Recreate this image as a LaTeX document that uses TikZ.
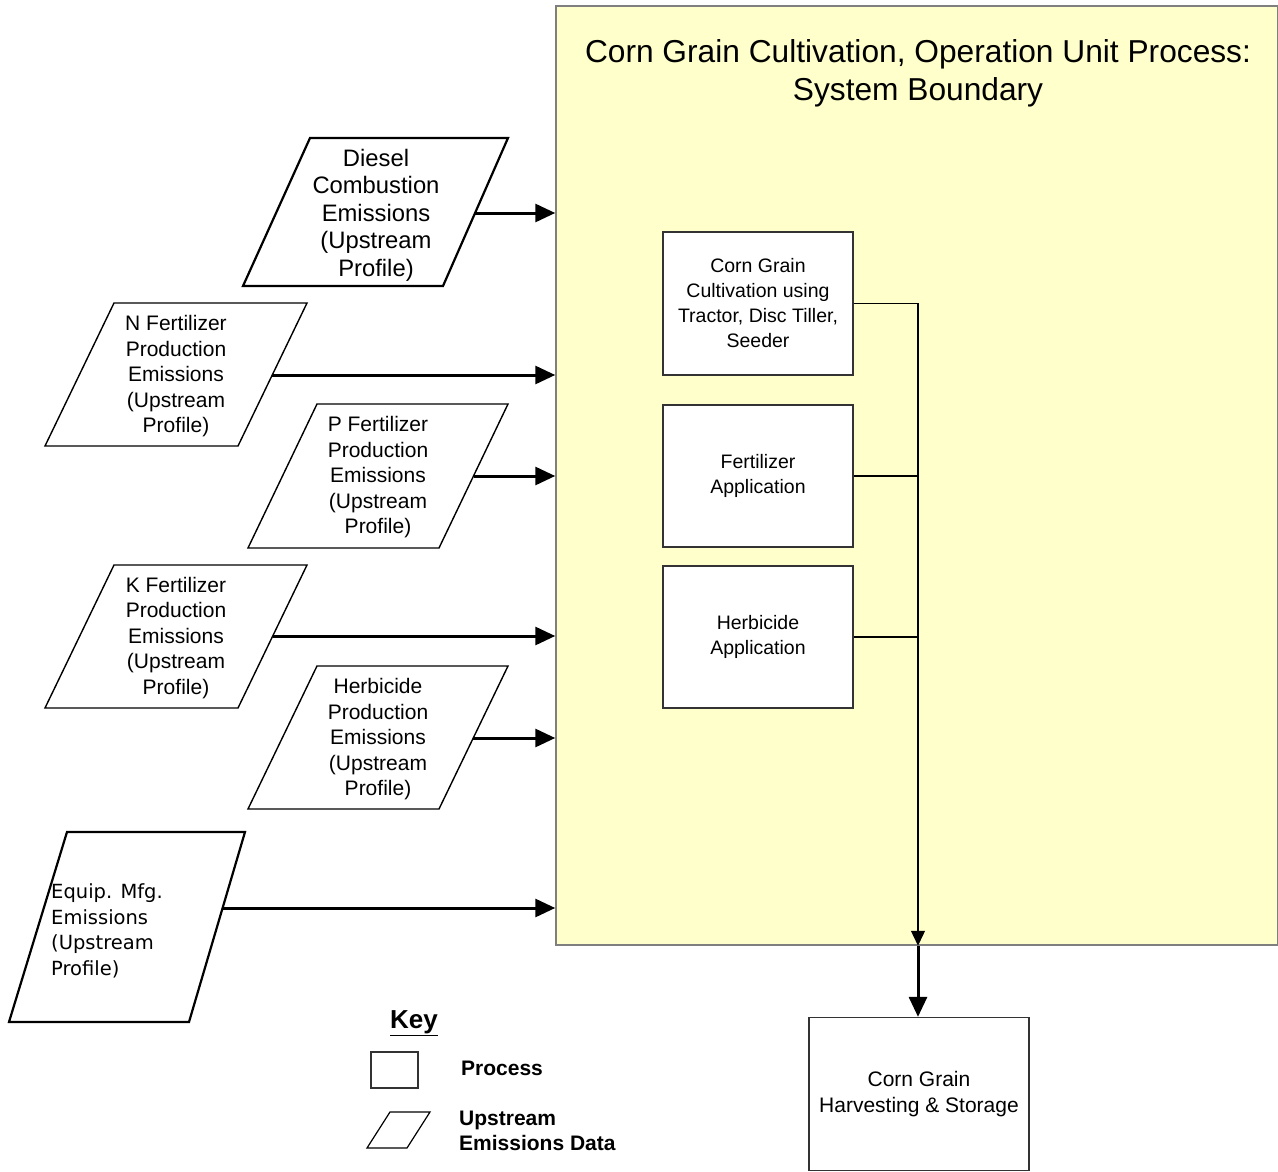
\documentclass[tikz,border=0pt]{standalone}
\usepackage{fontspec}
\setmainfont{Liberation Sans}
\newfontfamily\dejavu{DejaVu Sans}
\usetikzlibrary{arrows.meta,calc}
\definecolor{sysfill}{HTML}{FFFFCC}
\definecolor{sysline}{HTML}{7F7F7F}
\begin{document}
\begin{tikzpicture}[x=1pt,y=-1pt,
  proc/.style={draw=black!80, line width=1.3pt, fill=white, inner sep=0pt, align=center, font=\fontsize{19.5}{25}\selectfont},
  feed/.style={line width=3pt, -{Triangle[length=20pt,width=18pt]}},
  link/.style={line width=1.3pt},
  linkarrow/.style={line width=1.3pt, -{Triangle[length=15pt,width=14pt]}},
  upbox/.style={draw=black, line width=1.4pt, fill=white, line join=miter},
  upboxthick/.style={draw=black, line width=2.2pt, fill=white, line join=miter},
  uptext/.style={align=center, inner sep=0pt, font=\fontsize{21}{25.5}\selectfont},
  uptextbig/.style={align=center, inner sep=0pt, font=\fontsize{23.8}{27.5}\selectfont},
  keytext/.style={align=left, inner sep=0pt, font=\bfseries\fontsize{21}{25}\selectfont}
]
\useasboundingbox (0,0) rectangle (1278,1172);
\fill[white] (0,0) rectangle (1278,1172);

% system boundary
\node[draw=sysline, line width=1.5pt, fill=sysfill, minimum width=722pt, minimum height=939pt, inner sep=0pt] (sys) at (917,475.5) {};
\node[align=center, inner sep=0pt, font=\fontsize{31.7}{38}\selectfont] (title) at (918,73.5) {Corn Grain Cultivation, Operation Unit Process:\\System Boundary};

% process boxes
\node[proc, minimum width=190pt, minimum height=143pt] (b1) at (758,303.5) {Corn Grain\\Cultivation using\\Tractor, Disc Tiller,\\Seeder};
\node[proc, minimum width=190pt, minimum height=142pt] (b2) at (758,476) {Fertilizer\\Application};
\node[proc, minimum width=190pt, minimum height=142pt] (b3) at (758,637) {Herbicide\\Application};
\node[proc, minimum width=220pt, minimum height=153pt, font=\fontsize{21}{26}\selectfont] (hb) at (919,1094) {Corn Grain\\Harvesting \& Storage};

% upstream parallelograms
\draw[upboxthick] (310,138) -- (508,138) -- (443,286) -- (243,286) -- cycle;
\node[uptextbig] (diesel) at (376,215) {Diesel\\Combustion\\Emissions\\(Upstream\\Profile)};
\coordinate (dieselR) at (475,213);

\draw[upbox] (114,303) -- (307,303) -- (238,446) -- (45,446) -- cycle;
\node[uptext] (nfert) at (176,376.5) {N Fertilizer\\Production\\Emissions\\(Upstream\\Profile)};
\coordinate (nfertR) at (272,375);

\draw[upbox] (317,404) -- (508,404) -- (439,548) -- (248,548) -- cycle;
\node[uptext] (pfert) at (378,477.5) {P Fertilizer\\Production\\Emissions\\(Upstream\\Profile)};
\coordinate (pfertR) at (474,476);

\draw[upbox] (114,565) -- (307,565) -- (238,708) -- (45,708) -- cycle;
\node[uptext] (kfert) at (176,638) {K Fertilizer\\Production\\Emissions\\(Upstream\\Profile)};
\coordinate (kfertR) at (273,636);

\draw[upbox] (317,666) -- (508,666) -- (439,809) -- (248,809) -- cycle;
\node[uptext] (herb) at (378,739.5) {Herbicide\\Production\\Emissions\\(Upstream\\Profile)};
\coordinate (herbR) at (473,738);

\draw[upboxthick] (67,832) -- (245,832) -- (189,1022) -- (9,1022) -- cycle;
\node[align=left, inner sep=0pt, anchor=west, font=\dejavu\fontsize{19.5}{25.5}\selectfont] (equip) at (51,931) {Equip. Mfg.\\Emissions\\(Upstream\\Profile)};
\coordinate (equipR) at (223,908);

% feed arrows into the boundary
\draw[feed] (dieselR) -- (dieselR -| sys.west);
\draw[feed] (nfertR) -- (nfertR -| sys.west);
\draw[feed] (pfertR) -- (pfertR -| sys.west);
\draw[feed] (kfertR) -- (kfertR -| sys.west);
\draw[feed] (herbR) -- (herbR -| sys.west);
\draw[feed] (equipR) -- (equipR -| sys.west);

% process links
\coordinate (jx) at (918,0);
\draw[linkarrow] (b1.east) -- (b1.east -| jx) -- (jx |- sys.south);
\draw[link] (b2.east) -- (b2.east -| jx);
\draw[link] (b3.east) -- (b3.east -| jx);
\draw[feed] (jx |- sys.south) -- (jx |- hb.north);

% key
\node[inner sep=0pt, font=\bfseries\fontsize{26}{30}\selectfont] (key) at (414,1023) {\underline{Key}};
\node[draw=black!80, line width=1.2pt, fill=white, minimum width=47pt, minimum height=36pt, inner sep=0pt] (keyproc) at (394.5,1070) {};
\node[keytext, anchor=west] (keyproctext) at (461,1068) {Process};
\draw[upbox, line width=1.2pt] (390,1112) -- (430,1112) -- (407,1148) -- (367,1148) -- cycle;
\node[keytext, anchor=west] (keyuptext) at (459,1131) {Upstream\\Emissions Data};
\end{tikzpicture}
\end{document}
